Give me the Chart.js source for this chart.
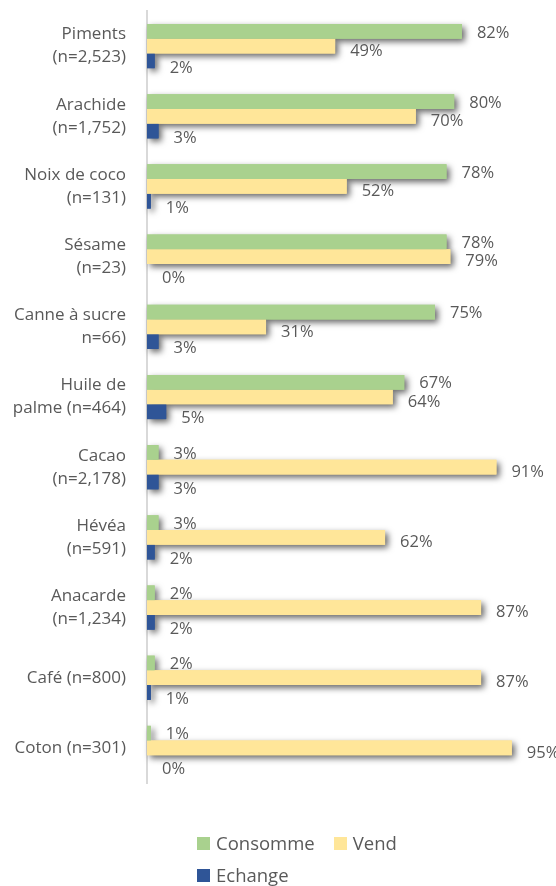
<!DOCTYPE html>
<html>
<head>
<meta charset="utf-8">
<script src="https://cdn.jsdelivr.net/npm/chart.js@4.4.0/dist/chart.umd.min.js"></script>
<style>
  body { margin: 0; background: #fff; }
  #wrap { position: relative; width: 556px; height: 886px; }
  #legend {
    position: absolute; left: 197px; top: 831px; width: 215px;
    display: flex; flex-wrap: wrap; row-gap: 8px; column-gap: 19px;
    font-family: "Open Sans", sans-serif; font-size: 18.5px; color: #595959;
  }
  #legend span.item { display: flex; align-items: center; line-height: 24px; }
  #legend span.box { width: 13px; height: 13px; margin-right: 6px; display: inline-block; }
</style>
</head>
<body>
<div id="wrap">
  <canvas id="chart"></canvas>
  <div id="legend"></div>
</div>
<script>
// categories (multi-line tick labels)
const categories = [
  ['Piments', '(n=2,523)'],
  ['Arachide', '(n=1,752)'],
  ['Noix de coco', '(n=131)'],
  ['Sésame', '(n=23)'],
  ['Canne à sucre', 'n=66)'],
  ['Huile de', 'palme (n=464)'],
  ['Cacao', '(n=2,178)'],
  ['Hévéa', '(n=591)'],
  ['Anacarde', '(n=1,234)'],
  'Café (n=800)',
  'Coton (n=301)'
];

// series values (%)
const consomme = [82, 80, 78, 78, 75, 67, 3, 3, 2, 2, 1];
const vend     = [49, 70, 52, 79, 31, 64, 91, 62, 87, 87, 95];
const echange  = [2, 3, 1, 0, 3, 5, 3, 2, 2, 1, 0];

const seriesNames = ['Consomme', 'Vend', 'Echange'];
const seriesColors = ['#A9D18E', '#FFE699', '#2F5597'];
const textColor = '#595959';

// draw each bar once with a drop shadow before the normal pass
const barShadow = {
  id: 'barShadow',
  beforeDatasetsDraw(chart) {
    const ctx = chart.ctx;
    ctx.save();
    ctx.shadowColor = 'rgba(0,0,0,0.6)';
    ctx.shadowBlur = 6;
    ctx.shadowOffsetX = 3;
    ctx.shadowOffsetY = 3;
    chart.data.datasets.forEach((ds, i) => {
      chart.getDatasetMeta(i).data.forEach(bar => {
        if (bar.x - bar.base > 0.5) bar.draw(ctx);
      });
    });
    ctx.restore();
  }
};

// value labels at the end of each bar
const valueLabels = {
  id: 'valueLabels',
  afterDraw(chart) {
    const ctx = chart.ctx;
    const dy = [1.5, 5, 7];
    ctx.save();
    ctx.font = '16.5px "Open Sans", sans-serif';
    ctx.fillStyle = textColor;
    ctx.textAlign = 'left';
    ctx.textBaseline = 'middle';
    chart.data.datasets.forEach((ds, i) => {
      chart.getDatasetMeta(i).data.forEach((bar, j) => {
        ctx.fillText(ds.data[j] + '%', bar.x + 15, bar.y + dy[i]);
      });
    });
    ctx.restore();
  }
};

const chart = new Chart(document.getElementById('chart'), {
  type: 'bar',
  data: {
    labels: categories,
    datasets: [consomme, vend, echange].map((d, i) => ({
      label: seriesNames[i],
      data: d,
      backgroundColor: seriesColors[i],
      borderWidth: 0,
      categoryPercentage: 0.63,
      barPercentage: 1
    }))
  },
  options: {
    indexAxis: 'y',
    responsive: true,
    maintainAspectRatio: false,
    animation: false,
    layout: { padding: { top: 11, bottom: 103, right: 25, left: 0 } },
    plugins: {
      legend: { display: false },
      tooltip: { enabled: false }
    },
    scales: {
      x: { display: false, min: 0, max: 100 },
      y: {
        grid: { display: false, drawTicks: false },
        border: { display: true, color: '#d9d9d9', width: 2 },
        ticks: {
          color: textColor,
          padding: 21,
          font: { family: '"Open Sans", sans-serif', size: 17, lineHeight: 1.35 }
        },
        afterFit(scale) {
          scale.width = 147;
          scale.paddingTop = 0;
          scale.paddingBottom = 0;
        }
      }
    }
  },
  plugins: [barShadow, valueLabels]
});

// legend
const legend = document.getElementById('legend');
seriesNames.forEach((name, i) => {
  const item = document.createElement('span');
  item.className = 'item';
  item.innerHTML = '<span class="box" style="background:' + seriesColors[i] + '"></span>' + name;
  legend.appendChild(item);
});
</script>
</body>
</html>
